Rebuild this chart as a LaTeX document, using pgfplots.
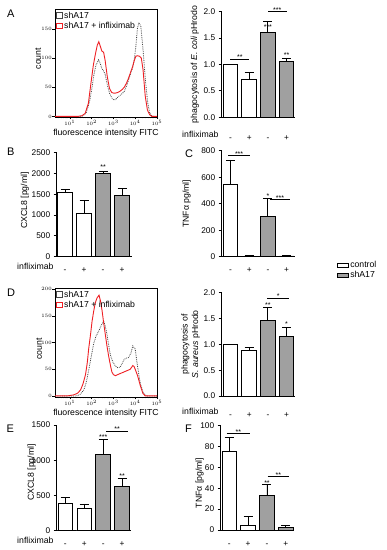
\documentclass[border=0pt]{standalone}
\usepackage{fontspec}
\setmainfont{Liberation Sans}
\usepackage{pgfplots}
\pgfplotsset{compat=1.18}
\definecolor{barg}{RGB}{160,160,160}
\definecolor{hred}{RGB}{238,32,36}
\definecolor{hgray}{RGB}{70,70,70}
\newcommand{\lf}{\fontsize{8.7}{10.5}\selectfont}
\newcommand{\tf}{\fontsize{8.3}{9}\selectfont}
\newcommand{\stf}{\fontsize{7}{7}\selectfont}
\newcommand{\hf}{\fontsize{3.4}{4}\selectfont}
\tikzset{sigstar/.style={font=\stf, inner sep=0pt, yshift=-1.5pt}}
\pgfplotsset{
 barax/.style={
  scale only axis, axis lines*=left, axis line style={-, line width=0.8pt},
  ymin=0, xtick={0,1,2,3}, xticklabels={-,+,-,+},
  xtick style={draw=none}, ytick style={line width=0.8pt, black},
  tick align=outside, major tick length=3pt,
  tick label style={font=\tf}, label style={font=\lf},
  /pgf/number format/assume math mode=true,
  /pgf/number format/1000 sep={},
  clip=false, ybar, bar width=14.6pt,
  error bars/y dir=plus, error bars/y explicit,
  error bars/error bar style={line width=0.8pt, black, solid},
  error bars/error mark options={rotate=90, mark size=4.5pt, line width=0.8pt, black, solid},
 },
 onedec/.style={yticklabel style={/pgf/number format/.cd, fixed, fixed zerofill, precision=1}},
 whitebar/.style={fill=white, draw=black, line width=0.8pt, bar shift=0pt, forget plot},
 graybar/.style={fill=barg, draw=black, line width=0.8pt, bar shift=0pt, forget plot},
 histax/.style={
  scale only axis, axis line style={line width=0.6pt},
  xmin=0.32, xmax=5, xtick={1,2,3,4,5},
  xticklabels={$10^1$,$10^2$,$10^3$,$10^4$,$10^5$},
  minor xtick={0.477,0.602,0.699,0.778,0.845,0.903,0.954,
   1.301,1.477,1.602,1.699,1.778,1.845,1.903,1.954,
   2.301,2.477,2.602,2.699,2.778,2.845,2.903,2.954,
   3.301,3.477,3.602,3.699,3.778,3.845,3.903,3.954,
   4.301,4.477,4.602,4.699,4.778,4.845,4.903,4.954},
  tick align=outside, xtick pos=bottom, ytick pos=left,
  major tick length=2.5pt, minor tick length=1.5pt,
  tick style={line width=0.5pt, black},
  tick label style={font=\hf, inner sep=0.6pt},
  label style={font=\lf},
  xlabel={fluorescence intensity FITC}, ylabel={count},
  xlabel style={at={([yshift=-15.8pt]rel axis cs:0.5,0)}, anchor=center, inner sep=0pt},
  legend style={at={(0,1)}, anchor=north west, draw=none, fill=none, font=\lf,
   inner sep=1pt, row sep=-0.5pt, nodes={inner sep=1.5pt}},
  legend cell align=left,
  legend image code/.code={\draw[#1,solid,fill=none,line width=0.7pt] (0pt,-2.8pt) rectangle (5.8pt,2.8pt);},
 },
}
\begin{document}
\begin{tikzpicture}[x=1pt,y=1pt]
\path[use as bounding box] (0pt,0pt) rectangle (387pt,550pt);

% ---------- A histogram ----------
\begin{axis}[histax, at={(55pt,433pt)}, anchor=south west, width=102pt, height=108pt,
  ymin=-1, ymax=184, ytick={0,50,100,150},
  ylabel style={at={([xshift=-17pt]rel axis cs:0,0.54)}, anchor=center}]
\addplot[hgray, densely dotted, line width=0.8pt] coordinates {
(0.32,0)(1.4,0)(1.6,1)(1.75,6)(1.9,25)(2.0,45)(2.1,70)(2.2,88)(2.32,97)(2.4,90)(2.47,82)(2.55,78)(2.62,72)(2.72,54)(2.82,40)(2.92,32)(3.02,28)(3.1,29)(3.2,33)(3.3,36)(3.4,39)(3.5,43)(3.6,52)(3.7,63)(3.8,75)(3.88,83)(3.95,95)(4.03,120)(4.1,150)(4.17,161)(4.26,154)(4.36,114)(4.48,57)(4.58,22)(4.66,7)(4.76,1)(4.85,0)(5,0)};
\addlegendentry{shA17}
\addplot[hred, line width=0.9pt] coordinates {
(0.32,0)(1.35,0)(1.55,1)(1.7,5)(1.85,22)(1.98,60)(2.08,88)(2.18,108)(2.26,122)(2.33,128)(2.4,120)(2.47,112)(2.55,110)(2.62,96)(2.72,68)(2.82,48)(2.92,41)(3.0,40)(3.1,40)(3.2,41)(3.3,43)(3.4,46)(3.5,50)(3.6,57)(3.7,66)(3.8,77)(3.88,85)(3.95,95)(4.03,103)(4.1,104)(4.2,103)(4.28,100)(4.36,80)(4.46,35)(4.56,11)(4.66,3)(4.76,0)(5,0)};
\addlegendentry{shA17 + infliximab}
\end{axis}

% ---------- A bars ----------
\begin{axis}[barax, onedec, at={(221.7pt,432.7pt)}, anchor=south west, width=73.3pt, height=105.6pt,
  xmin=-0.47, xmax=3.45, ymax=2.0, ytick={0,0.5,1,1.5,2},
  xticklabel style={anchor=base, yshift=-20.2pt},
  ylabel={phagocytosis of \textit{E. coli} pHrodo},
  ylabel style={at={([xshift=-26.7pt]rel axis cs:0,0.5)}, anchor=center}]
\addplot[whitebar] coordinates {(0,1.0) +- (0,0) (1,0.72) +- (0,0.125)};
\addplot[graybar] coordinates {(2,1.6) +- (0,0.22) (3,1.066) +- (0,0.052)};
\draw[line width=0.7pt] (axis cs:0,1.10) -- (axis cs:1,1.10);
\node[sigstar] at (axis cs:0.5,1.16) {**};
\node[sigstar] at (axis cs:2,1.74) {***};
\draw[line width=0.7pt] (axis cs:2.02,2.0) -- (axis cs:3,2.0);
\node[sigstar] at (axis cs:2.5,2.06) {***};
\node[sigstar] at (axis cs:3,1.21) {**};
\node[anchor=base east, font=\lf, inner sep=0pt] at ([xshift=-3pt,yshift=-20.2pt]rel axis cs:0,0) {infliximab};
\end{axis}

% ---------- B ----------
\begin{axis}[barax, at={(56.7pt,293.3pt)}, anchor=south west, width=75pt, height=104pt,
  xmin=-0.44, xmax=3.51, ymax=2500, ytick={0,500,1000,1500,2000,2500},
  xticklabel style={anchor=base, yshift=-12.4pt},
  ylabel={CXCL8 [pg/ml]},
  ylabel style={at={([xshift=-31.7pt]rel axis cs:0,0.54)}, anchor=center}]
\addplot[whitebar] coordinates {(0,1550) +- (0,70) (1,1030) +- (0,330)};
\addplot[graybar] coordinates {(2,2000) +- (0,55) (3,1475) +- (0,175)};
\node[sigstar] at (axis cs:2,2200) {**};
\node[anchor=base east, font=\lf, inner sep=0pt] at ([xshift=-3pt,yshift=-12.4pt]rel axis cs:0,0) {infliximab};
\end{axis}

% ---------- C ----------
\begin{axis}[barax, at={(221.7pt,293.3pt)}, anchor=south west, width=73.3pt, height=106pt,
  xmin=-0.47, xmax=3.45, ymax=800, ytick={0,200,400,600,800},
  xticklabel style={anchor=base, yshift=-12.4pt},
  ylabel={TNFα pg/ml]},
  ylabel style={at={([xshift=-35pt]rel axis cs:0,0.5)}, anchor=center}]
\addplot[whitebar] coordinates {(0,546) +- (0,184) (1,6) +- (0,5)};
\addplot[graybar] coordinates {(2,302) +- (0,135) (3,6) +- (0,5)};
\draw[line width=0.7pt] (axis cs:-0.12,762) -- (axis cs:1.04,762);
\node[sigstar] at (axis cs:0.46,782) {***};
\node[sigstar] at (axis cs:2,468) {*};
\draw[line width=0.7pt] (axis cs:2.11,433) -- (axis cs:3.18,433);
\node[sigstar] at (axis cs:2.65,456) {***};
\end{axis}

% ---------- D histogram ----------
\begin{axis}[histax, at={(55pt,153pt)}, anchor=south west, width=102pt, height=109pt,
  ymin=-2, ymax=202.5, ytick={0,50,100,150,200},
  ylabel style={at={([xshift=-16pt]rel axis cs:0,0.44)}, anchor=center}]
\addplot[hgray, densely dotted, line width=0.8pt] coordinates {
(0.32,0)(1.3,0)(1.45,2)(1.64,11)(1.75,25)(1.87,49)(2.0,78)(2.1,99)(2.2,112)(2.32,121)(2.45,133)(2.55,141)(2.62,132)(2.7,117)(2.78,96)(2.86,77)(2.97,64)(3.09,56)(3.2,53)(3.31,54)(3.4,61)(3.5,69)(3.6,71)(3.69,72)(3.8,80)(3.89,94)(4.0,88)(4.11,55)(4.23,24)(4.38,5)(4.53,0)(5,0)};
\addlegendentry{shA17}
\addplot[hred, line width=0.9pt] coordinates {
(0.32,0)(0.88,0)(1.18,2)(1.35,5)(1.49,11)(1.6,22)(1.72,40)(1.8,62)(1.87,90)(1.95,115)(2.02,140)(2.1,160)(2.17,175)(2.25,184)(2.34,189)(2.41,178)(2.48,160)(2.55,138)(2.63,115)(2.7,95)(2.78,75)(2.86,58)(2.93,45)(3.0,40)(3.09,38)(3.2,40)(3.31,42)(3.43,44)(3.54,46)(3.66,48)(3.77,50)(3.84,54)(3.89,57)(3.95,55)(4.0,50)(4.11,38)(4.23,20)(4.35,5)(4.46,0)(5,0)};
\addlegendentry{shA17 + infliximab}
\end{axis}

% ---------- D bars ----------
\begin{axis}[barax, onedec, at={(221.7pt,154pt)}, anchor=south west, width=73.3pt, height=103.3pt,
  xmin=-0.47, xmax=3.45, ymax=2.0, ytick={0,0.5,1,1.5,2},
  xticklabel style={anchor=base, yshift=-18.7pt},
  ylabel={phagocytosis of\\\textit{S. aureus} pHrodo},
  ylabel style={at={([xshift=-31pt]rel axis cs:0,0.5)}, anchor=center, align=center},
  legend style={at={(1.53,1.34)}, anchor=north west, draw=none, fill=none, font=\lf,
   row sep=-0.5pt, nodes={inner sep=1.5pt}},
  legend cell align=left]
\addplot[whitebar] coordinates {(0,1.0) +- (0,0) (1,0.885) +- (0,0.05)};
\addplot[graybar] coordinates {(2,1.47) +- (0,0.25) (3,1.15) +- (0,0.17)};
\addlegendimage{legend image code/.code={\draw[fill=white,draw=black,line width=0.7pt] (0pt,-2pt) rectangle (11pt,2pt);}}
\addlegendentry{control}
\addlegendimage{legend image code/.code={\draw[fill=barg,draw=black,line width=0.7pt] (0pt,-2pt) rectangle (11pt,2pt);}}
\addlegendentry{shA17}
\node[sigstar] at (axis cs:2,1.79) {**};
\node[sigstar] at (axis cs:3,1.42) {*};
\draw[line width=0.7pt] (axis cs:1.97,1.89) -- (axis cs:3.14,1.89);
\node[sigstar] at (axis cs:2.55,1.97) {*};
\node[anchor=base east, font=\lf, inner sep=0pt] at ([xshift=-3pt,yshift=-18.7pt]rel axis cs:0,0) {infliximab};
\end{axis}

% ---------- E ----------
\begin{axis}[barax, at={(56.7pt,19.3pt)}, anchor=south west, width=74pt, height=105.7pt,
  xmin=-0.45, xmax=3.45, ymax=1500, ytick={0,500,1000,1500},
  xticklabel style={anchor=base, yshift=-12.7pt},
  ylabel={CXCL8 [pg/ml]},
  ylabel style={at={([xshift=-25pt]rel axis cs:0,0.55)}, anchor=center}]
\addplot[whitebar] coordinates {(0,385) +- (0,85) (1,317) +- (0,62)};
\addplot[graybar] coordinates {(2,1084) +- (0,205) (3,625) +- (0,118)};
\node[sigstar] at (axis cs:2,1349) {***};
\draw[line width=0.7pt] (axis cs:2.16,1405) -- (axis cs:3.31,1405);
\node[sigstar] at (axis cs:2.73,1462) {**};
\node[sigstar] at (axis cs:3,790) {**};
\node[anchor=base east, font=\lf, inner sep=0pt] at ([xshift=-3pt,yshift=-12.7pt]rel axis cs:0,0) {infliximab};
\end{axis}

% ---------- F ----------
\begin{axis}[barax, at={(220.7pt,20pt)}, anchor=south west, width=73.3pt, height=104.3pt,
  xmin=-0.45, xmax=3.43, ymax=100, ytick={0,20,40,60,80,100},
  xticklabel style={anchor=base, yshift=-13.1pt},
  ylabel={TNFα [pg/ml]},
  ylabel style={at={([xshift=-21pt]rel axis cs:0,0.45)}, anchor=center}]
\addplot[whitebar] coordinates {(0,75) +- (0,14) (1,4.8) +- (0,8)};
\addplot[graybar] coordinates {(2,33.5) +- (0,10.5) (3,2.6) +- (0,1.6)};
\draw[line width=0.7pt] (axis cs:-0.13,92.7) -- (axis cs:1.1,92.7);
\node[sigstar] at (axis cs:0.48,95.5) {**};
\node[sigstar] at (axis cs:2,46.3) {**};
\draw[line width=0.7pt] (axis cs:2.04,51) -- (axis cs:3.19,51);
\node[sigstar] at (axis cs:2.6,54) {**};
\end{axis}

% ---------- panel letters ----------
\node[font=\fontsize{11}{11}\selectfont] at (10.7pt,536.7pt) {A};
\node[font=\fontsize{11}{11}\selectfont] at (10.7pt,398pt) {B};
\node[font=\fontsize{11}{11}\selectfont] at (189pt,396pt) {C};
\node[font=\fontsize{11}{11}\selectfont] at (11pt,257.3pt) {D};
\node[font=\fontsize{11}{11}\selectfont] at (10.3pt,121pt) {E};
\node[font=\fontsize{11}{11}\selectfont] at (188.5pt,121pt) {F};
\end{tikzpicture}
\end{document}
